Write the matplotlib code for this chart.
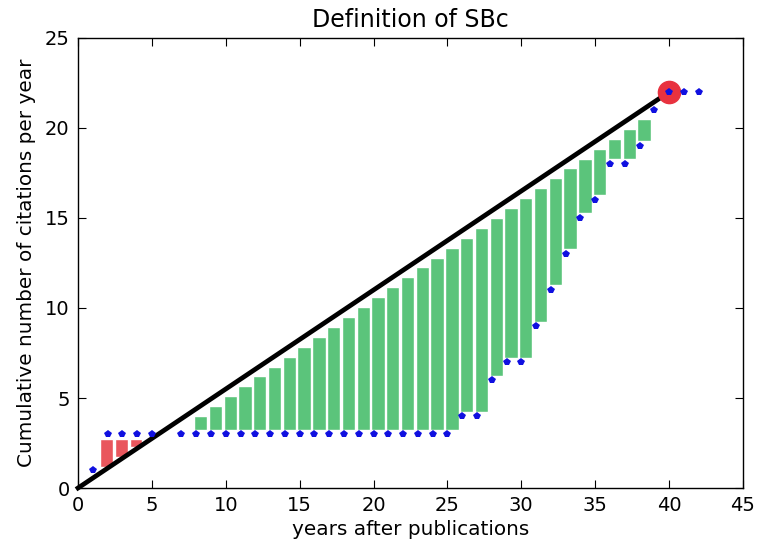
import numpy as np
import matplotlib
matplotlib.use("Agg")
import matplotlib.pyplot as plt

# === DATA ===
# year 6 has no point in the original chart
years = np.array([1, 2, 3, 4, 5, 7, 8, 9, 10,
                  11, 12, 13, 14, 15, 16, 17, 18, 19, 20,
                  21, 22, 23, 24, 25, 26, 27, 28, 29, 30,
                  31, 32, 33, 34, 35, 36, 37, 38, 39, 40,
                  41, 42])
cites = np.array([1, 3, 3, 3, 3, 3, 3, 3, 3,
                  3, 3, 3, 3, 3, 3, 3, 3, 3, 3,
                  3, 3, 3, 3, 3, 4, 4, 6, 7, 7,
                  9, 11, 13, 15, 16, 18, 18, 19, 21, 22,
                  22, 22])
peak_year = 40
peak_value = 22

# reference line from origin to the peak
slope = peak_value / peak_year
line_x = np.array([0, peak_year])
line_y = slope * line_x

# === FIGURE ===
fig = plt.figure(figsize=(7.61, 5.49), dpi=100, facecolor="white")
ax = fig.add_axes([0.1025, 0.1111, 0.8738, 0.8197])

# bars between the dots and the line
ref = slope * years
below = (years <= peak_year) & (cites < ref)
above = (years <= peak_year) & (cites > ref)

g_bot = cites + 0.25
g_top = ref - 0.4
gmask = below & (g_top - g_bot > 0.3)
ax.bar(years[gmask] - 0.15, (g_top - g_bot)[gmask], bottom=g_bot[gmask], width=0.9,
       align="edge", color="#5bc47b", edgecolor="white", linewidth=1, zorder=2)

r_bot = ref + 0.08
r_top = cites - 0.25
rmask = above & (r_top - r_bot > 0.3)
ax.bar(years[rmask] - 0.5, (r_top - r_bot)[rmask], bottom=r_bot[rmask], width=0.85,
       align="edge", color="#e9565d", edgecolor="white", linewidth=1, zorder=2)

# black reference line
ax.plot(line_x, line_y, color="black", linewidth=3.4, solid_capstyle="projecting",
        clip_on=False, zorder=3)

# peak marker
ax.plot([peak_year], [peak_value], "o", color="#e8323f", markersize=16,
        markeredgecolor="#e8323f", zorder=4)

# citation dots
ax.plot(years, cites, "p", color="#1010e0", markersize=6, markeredgewidth=0,
        zorder=5)

ax.set_xlim(0, 45)
ax.set_ylim(0, 25)
ax.set_xticks(np.arange(0, 46, 5))
ax.set_yticks(np.arange(0, 26, 5))
ax.tick_params(direction="in", top=True, right=True, length=6, labelsize=14,
               pad=6)
for s in ax.spines.values():
    s.set_linewidth(1)

ax.set_title("Definition of SBc", fontsize=17, pad=8)
ax.set_xlabel("years after publications", fontsize=14.4, labelpad=3)
ax.set_ylabel("Cumulative number of citations per year", fontsize=14.4,
              labelpad=6)

fig.savefig("out.png", dpi=100, facecolor="white")
